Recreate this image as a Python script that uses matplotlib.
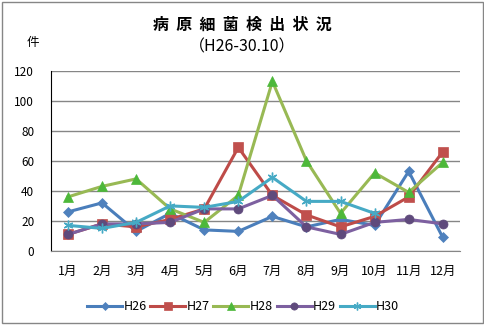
import matplotlib
matplotlib.use('Agg')
import matplotlib.pyplot as plt
from matplotlib.patches import Rectangle

plt.rcParams['font.family'] = ['Noto Sans CJK JP', 'DejaVu Sans']

months = ['1月', '2月', '3月', '4月', '5月', '6月',
          '7月', '8月', '9月', '10月', '11月', '12月']
h26 = [26, 32, 13, 25, 14, 13, 23, 16, 21, 17, 53, 9]
h27 = [11, 18, 16, 21, 28, 69, 37, 24, 16, 23, 36, 66]
h28 = [36, 43, 48, 28, 19, 37, 113, 60, 25, 52, 39, 59]
h29 = [11, 18, 18, 19, 28, 28, 37, 16, 11, 19, 21, 18]
h30 = [17, 15, 19, 30, 29, 33, 49, 33, 33, 25]

# name, values, line colour, marker colour, marker, marker size
series = [
    ('H26', h26, '#4A7EBB', '#4F81BD', 'D', 5),
    ('H27', h27, '#BE4B48', '#C0504D', 's', 6.5),
    ('H28', h28, '#98B954', '#4DB83A', '^', 7),
    ('H29', h29, '#7D60A0', '#5F4A7C', 'o', 6.5),
    ('H30', h30, '#46AAC5', '#46AAC5', (6, 2, 0), 7),
]

fig = plt.figure(figsize=(4.85, 3.25), dpi=100)
ax = fig.add_axes([0.105, 0.228, 0.843, 0.554])

x = list(range(1, 13))
for name, vals, lc, mc, mk, ms in series:
    ax.plot(x[:len(vals)], vals, color=lc, lw=2.2, marker=mk, ms=ms,
            markerfacecolor=mc, markeredgecolor=mc,
            mew=1.0 if mk == (6, 2, 0) else 0.5, label=name)

ax.set_xlim(0.5, 12.5)
ax.set_ylim(0, 120)
ax.set_yticks(range(0, 121, 20))
ax.set_xticks(x)
ax.set_xticklabels(months)
ax.yaxis.grid(True, color='#868686', lw=1)
ax.set_axisbelow(True)
ax.tick_params(length=0, labelsize=8.5)
ax.tick_params(axis='y', pad=12)
ax.tick_params(axis='x', pad=10, labelsize=9)
for side in ['top', 'right']:
    ax.spines[side].set_visible(False)
ax.spines['left'].set_color('black')
ax.spines['bottom'].set_color('#868686')

fig.text(0.5, 0.925, '病  原  細  菌  検  出  状  況', ha='center', va='center',
         fontsize=11.5, fontweight='bold')
fig.text(0.5, 0.855, '（H26-30.10）', ha='center', va='center', fontsize=11.5)
fig.text(0.068, 0.868, '件', ha='center', va='center', fontsize=9)

ax.legend(loc='center', bbox_to_anchor=(0.5 - 0.03, -0.31), ncol=5, frameon=False,
          fontsize=9, handlelength=2.8, columnspacing=0.3, handletextpad=0.1,
          markerscale=0.8)

fig.patches.append(Rectangle((0.004, 0.006), 0.992, 0.988, transform=fig.transFigure,
                             fill=False, edgecolor='#868686', lw=1))

fig.savefig('out.png', dpi=100)
